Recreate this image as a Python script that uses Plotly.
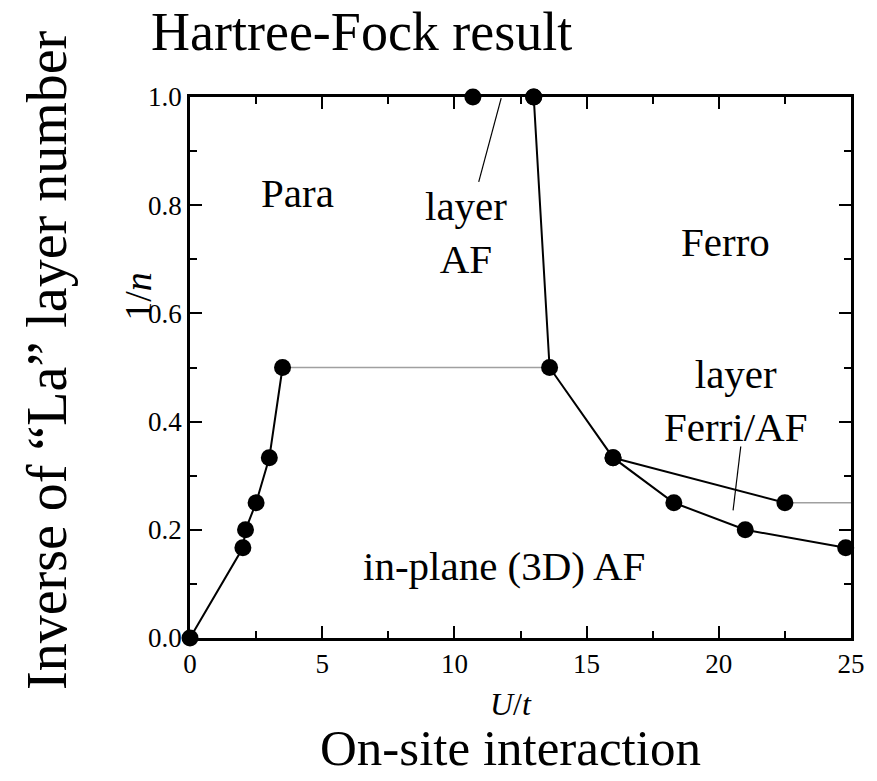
import plotly.graph_objects as go

# Phase boundaries, U/t versus 1/n
para_u = [0.0, 2.0, 2.1, 2.5, 3.0, 3.5]
para_inv_n = [0.0, 1 / 6, 0.2, 0.25, 1 / 3, 0.5]

layer_af_u = [10.7, 13.0]
layer_af_inv_n = [1.0, 1.0]

ferro_u = [13.0, 13.6, 16.0, 18.3, 21.0, 24.8]
ferro_inv_n = [1.0, 0.5, 1 / 3, 0.25, 0.2, 1 / 6]

ferri_u = [16.0, 22.5]
ferri_inv_n = [1 / 3, 0.25]

# Thin grey boundaries
grey_half_u = [3.5, 13.6]
grey_half_inv_n = [0.5, 0.5]
grey_quarter_u = [22.5, 25.0]
grey_quarter_inv_n = [0.25, 0.25]

# Leader lines for the labels
leader_af_u = [11.77, 10.92]
leader_af_inv_n = [0.998, 0.843]
leader_ferri_u = [20.83, 20.54]
leader_ferri_inv_n = [0.354, 0.236]

x_ticks = [0, 5, 10, 15, 20, 25]
y_ticks = [0.0, 0.2, 0.4, 0.6, 0.8, 1.0]

SERIF = "Liberation Serif"
W, H = 877, 781
L, R, T, B = 190, 17, 97, 143

fig = go.Figure()

line_style = dict(color="black", width=2)
grey_style = dict(color="#a0a0a0", width=1.5)
marker_style = dict(color="black", size=17)

fig.add_trace(go.Scatter(x=grey_half_u, y=grey_half_inv_n, mode="lines", line=grey_style))
fig.add_trace(go.Scatter(x=grey_quarter_u, y=grey_quarter_inv_n, mode="lines", line=grey_style))
fig.add_trace(go.Scatter(x=leader_af_u, y=leader_af_inv_n, mode="lines",
                         line=dict(color="black", width=1.2)))
fig.add_trace(go.Scatter(x=leader_ferri_u, y=leader_ferri_inv_n, mode="lines",
                         line=dict(color="black", width=1.2)))
fig.add_trace(go.Scatter(x=ferri_u, y=ferri_inv_n, mode="lines+markers",
                         line=line_style, marker=marker_style))
fig.add_trace(go.Scatter(x=ferro_u, y=ferro_inv_n, mode="lines+markers",
                         line=line_style, marker=marker_style))
fig.add_trace(go.Scatter(x=para_u, y=para_inv_n, mode="lines+markers",
                         line=line_style, marker=marker_style))
fig.add_trace(go.Scatter(x=layer_af_u, y=layer_af_inv_n, mode="markers",
                         marker=marker_style))

fig.update_traces(cliponaxis=False, showlegend=False, hoverinfo="skip")

axis_common = dict(
    showline=True, linecolor="black", linewidth=2.5, mirror="ticks",
    ticks="inside", ticklen=12, tickwidth=2, tickcolor="black",
    showgrid=False, zeroline=False,
    tickfont=dict(family=SERIF, size=27, color="black"),
)

fig.update_xaxes(range=[0, 25], tickvals=x_ticks, ticktext=[str(v) for v in x_ticks],
                 minor=dict(dtick=2.5, ticks="inside", ticklen=7, tickwidth=2,
                            tickcolor="black", showgrid=False),
                 **axis_common)
fig.update_yaxes(range=[0, 1], tickvals=y_ticks, ticktext=[f"{v:.1f}" for v in y_ticks],
                 minor=dict(dtick=0.1, ticks="inside", ticklen=7, tickwidth=2,
                            tickcolor="black", showgrid=False),
                 **axis_common)


def px_to_paper(px, py):
    return (px - L) / (W - L - R), (H - B - py) / (H - T - B)


def label(text, px, py, size, angle=0):
    x, y = px_to_paper(px, py)
    fig.add_annotation(text=text, x=x, y=y, xref="paper", yref="paper",
                       xanchor="center", yanchor="middle", showarrow=False,
                       textangle=angle, font=dict(family=SERIF, size=size, color="black"))


# Region labels
label("Para", 299, 193, 41)
label("layer<br>AF", 470, 232, 41)
label("Ferro", 733, 242, 41)
label("layer<br>Ferri/AF", 743, 400, 41)
label("in-plane (3D) AF", 508, 566, 41)

# Titles
label("Hartree-Fock result", 364, 32, 54)
label("<i>U</i>/<i>t</i>", 515, 704, 32)
label("On-site interaction", 515, 748, 51)
label("Inverse of “La” layer number", 45, 360, 56, angle=-90)
label("1/<i>n</i>", 137, 296, 38, angle=-90)

fig.update_layout(
    width=W, height=H,
    margin=dict(l=L, r=R, t=T, b=B),
    plot_bgcolor="white", paper_bgcolor="white",
    font=dict(family=SERIF, color="black"),
    showlegend=False,
)

fig.write_html("out.html")
